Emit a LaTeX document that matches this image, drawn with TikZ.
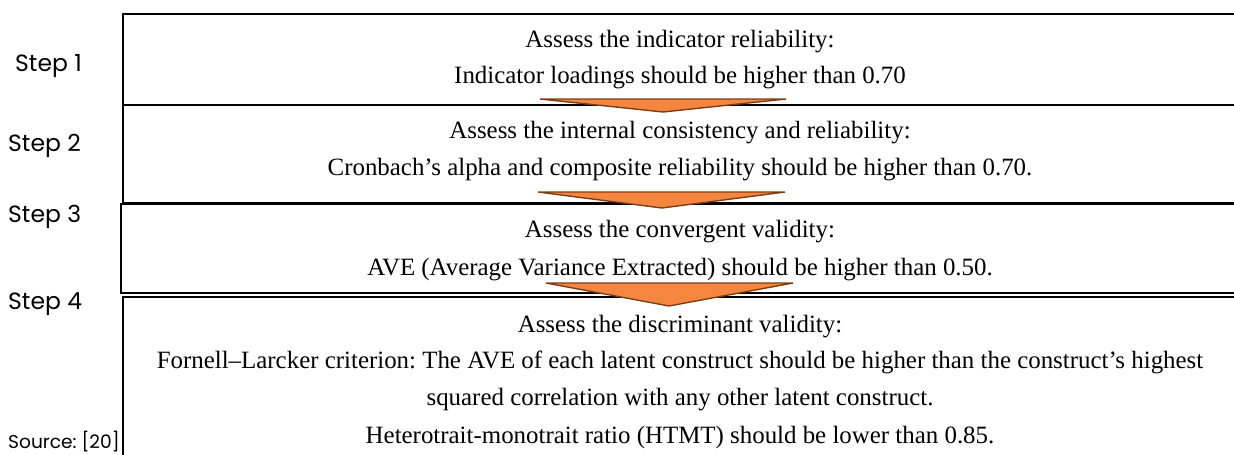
\documentclass[tikz,border=0pt]{standalone}
\usepackage{fontspec}
\setmainfont{Liberation Serif}
\newfontfamily\stepfont{Poppins}
\definecolor{arrowfill}{RGB}{245,134,64}
\definecolor{arrowline}{RGB}{125,62,22}
\frenchspacing
\begin{document}
\begin{tikzpicture}[x=1pt,y=-1pt,
  stagebox/.style={draw=black,line width=2.4pt,rectangle,inner sep=0pt,anchor=north west},
  body/.style={font=\fontsize{24.9}{28}\selectfont,anchor=base,inner sep=0pt},
  steplabel/.style={font=\stepfont\fontsize{23.5}{27}\selectfont,anchor=base west,inner sep=0pt},
  srclabel/.style={font=\stepfont\fontsize{18.6}{22}\selectfont,anchor=base west,inner sep=0pt},
  flowarrow/.style={fill=arrowfill,draw=arrowline,line width=1.4pt,line join=miter}]
\path[use as bounding box, clip] (0,0) rectangle (1234,455);
\fill[white] (0,0) rectangle (1234,455);

% the four stage boxes (open to the right and, for the last one, downwards)
\node[stagebox,minimum width=1130pt,minimum height=91pt]  (box1) at (122,13)  {};
\node[stagebox,minimum width=1130pt,minimum height=98pt]  (box2) at (122,104) {};
\node[stagebox,minimum width=1132pt,minimum height=89pt]  (box3) at (120,203) {};
\node[stagebox,minimum width=1130pt,minimum height=180pt] (box4) at (122,296) {};

% step labels
\node[steplabel] (s1) at (15,71)  {Step 1};
\node[steplabel] (s2) at (8,151)  {Step 2};
\node[steplabel] (s3) at (8,222)  {Step 3};
\node[steplabel] (s4) at (8,309)  {Step 4};
\node[srclabel]  (src) at (8,448) {Source: [20]};

% box texts
\node[body] (t1a) at (680,47)  {Assess the indicator reliability:};
\node[body] (t1b) at (680,83)  {Indicator loadings should be higher than 0.70};
\node[body] (t2a) at (680,138) {Assess the internal consistency and reliability:};
\node[body] (t2b) at (680,175) {Cronbach’s alpha and composite reliability should be higher than 0.70.};
\node[body] (t3a) at (680,237) {Assess the convergent validity:};
\node[body] (t3b) at (680,275) {AVE (Average Variance Extracted) should be higher than 0.50.};
\node[body] (t4a) at (680,332) {Assess the discriminant validity:};
\node[body] (t4b) at (680,368) {Fornell–Larcker criterion: The AVE of each latent construct should be higher than the construct’s highest};
\node[body] (t4c) at (680,405) {squared correlation with any other latent construct.};
\node[body] (t4d) at (680,443) {Heterotrait-monotrait ratio (HTMT) should be lower than 0.85.};

% downward arrows between the stages
\draw[flowarrow] (540,99)  -- (786,99)  -- (663,112) -- cycle;
\draw[flowarrow] (538,192) -- (785,192) -- (662,208) -- cycle;
\draw[flowarrow] (546,283) -- (793,283) -- (669,306) -- cycle;
\end{tikzpicture}
\end{document}
